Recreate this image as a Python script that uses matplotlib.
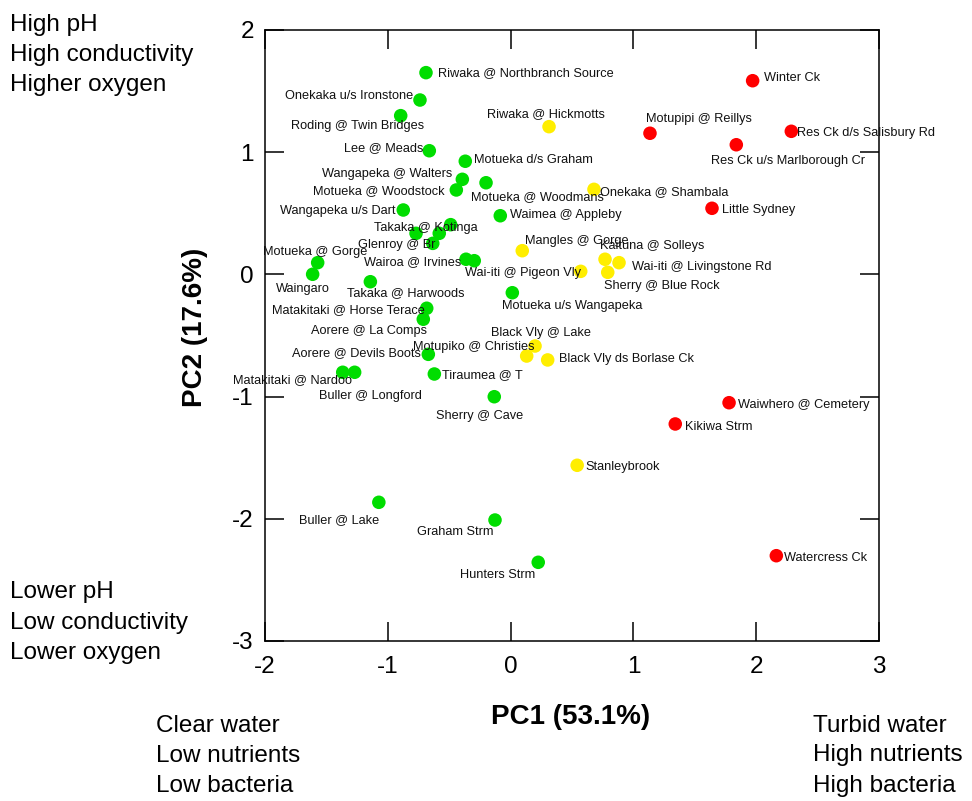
import matplotlib
matplotlib.use("Agg")
import matplotlib.pyplot as plt

plt.rcParams['font.family'] = ['Liberation Sans', 'DejaVu Sans']
plt.rcParams['axes.unicode_minus'] = False

# ---------------- data ----------------
site_names = [
    "Riwaka @ Northbranch Source", "Onekaka u/s Ironstone", "Roding @ Twin Bridges",
    "Lee @ Meads", "Motueka d/s Graham", "Wangapeka @ Walters", "Motueka @ Woodstock",
    "Motueka @ Woodmans", "Wangapeka u/s Dart", "Waimea @ Appleby", "",
    "Takaka @ Kotinga", "", "Glenroy @ Br", "Wairoa @ Irvines", "",
    "Motueka @ Gorge", "Waingaro", "Takaka @ Harwoods", "Matakitaki @ Horse Terace",
    "Aorere @ La Comps", "Motueka u/s Wangapeka", "Aorere @ Devils Boots",
    "Tiraumea @ T", "Matakitaki @ Nardoo", "Buller @ Longford", "Sherry @ Cave",
    "Buller @ Lake", "Graham Strm", "Hunters Strm",
    "Riwaka @ Hickmotts", "Onekaka @ Shambala", "Mangles @ Gorge", "Wai-iti @ Pigeon Vly",
    "Kaituna @ Solleys", "Wai-iti @ Livingstone Rd", "Sherry @ Blue Rock",
    "Black Vly @ Lake", "Motupiko @ Christies", "Black Vly ds Borlase Ck", "Stanleybrook",
    "Winter Ck", "Motupipi @ Reillys", "Res Ck u/s Marlborough Cr", "Res Ck d/s Salisbury Rd",
    "Little Sydney", "Waiwhero @ Cemetery", "Kikiwa Strm", "Watercress Ck",
]
pc1 = [
    -0.689, -0.738, -0.895, -0.662, -0.369, -0.393, -0.442, -0.200, -0.874, -0.084,
    -0.770, -0.581, -0.488, -0.634, -0.363, -0.296, -1.571, -1.612, -1.142, -0.683,
    -0.711, 0.014, -0.670, -0.621, -1.367, -1.270, -0.133, -1.073, -0.127, 0.225,
    0.313, 0.679, 0.095, 0.571, 0.769, 0.883, 0.791, 0.199, 0.131, 0.302, 0.542,
    1.971, 1.135, 1.838, 2.286, 1.640, 1.779, 1.341, 2.164,
]
pc2 = [
    1.651, 1.427, 1.299, 1.012, 0.926, 0.778, 0.691, 0.750, 0.527, 0.480,
    0.336, 0.336, 0.407, 0.254, 0.124, 0.112, 0.096, 0.001, -0.060, -0.277,
    -0.367, -0.150, -0.654, -0.815, -0.801, -0.801, -1.001, -1.865, -2.010, -2.356,
    1.209, 0.696, 0.194, 0.025, 0.124, 0.096, 0.017, -0.586, -0.668, -0.700, -1.562,
    1.585, 1.155, 1.061, 1.171, 0.541, -1.050, -1.224, -2.302,
]
group = ["good"] * 30 + ["fair"] * 11 + ["poor"] * 8

x_ticks = [-2, -1, 0, 1, 2, 3]
y_ticks = [-3, -2, -1, 0, 1, 2]
x_label = "PC1 (53.1%)"
y_label = "PC2 (17.6%)"
top_left_text = ["High pH", "High conductivity", "Higher oxygen"]
bottom_left_text = ["Lower pH", "Low conductivity", "Lower oxygen"]
bottom_center_text = ["Clear water", "Low nutrients", "Low bacteria"]
bottom_right_text = ["Turbid water", "High nutrients", "High bacteria"]

# ---------------- layout / style ----------------
group_colors = {"good": "#00dd00", "fair": "#ffee00", "poor": "#ff0000"}
# label offsets in pixels (dx, dy up) and horizontal alignment, same order as points
label_place = [
    (12, 0, 'left'), (-7, 4, 'right'), (23, -10, 'right'), (-6, 3, 'right'),
    (9, 1, 'left'), (-10, 5, 'right'), (-12, -1, 'right'), (-15, -14, 'left'),
    (-8, -1, 'right'), (10, 1, 'left'), (0, 0, 'left'), (-13, 5, 'center'),
    (0, 0, 'left'), (3, -2, 'right'), (-5, -3, 'right'), (0, 0, 'left'),
    (-2, 11, 'center'), (-10, -15, 'center'), (-23, -11, 'left'), (-2, -2, 'right'),
    (4, -12, 'right'), (-10, -13, 'left'), (-7, 1, 'right'), (8, -1, 'left'),
    (9, -8, 'right'), (16, -24, 'center'), (-15, -19, 'center'), (0, -18, 'right'),
    (-2, -12, 'right'), (-3, -13, 'right'),
    (-3, 13, 'center'), (6, -3, 'left'), (3, 10, 'left'), (0, -2, 'right'),
    (-5, 13, 'left'), (13, -4, 'left'), (-4, -14, 'left'), (6, 13, 'center'),
    (8, 9, 'right'), (11, 1, 'left'), (8, -2, 'left'),
    (11, 3, 'left'), (-4, 14, 'left'), (-25, -16, 'left'), (6, -2, 'left'),
    (10, -2, 'left'), (9, -2, 'left'), (10, -3, 'left'), (8, -2, 'left'),
]

W, H = 972, 801
fig = plt.figure(figsize=(W / 100, H / 100), dpi=100)
ax = fig.add_axes([265 / W, 1 - 641 / H, 614 / W, 611 / H])

colors = [group_colors[g] for g in group]
ax.scatter(pc1, pc2, s=95, c=colors, edgecolors='none', zorder=3)

for name, x, y, (dx, dy, ha) in zip(site_names, pc1, pc2, label_place):
    if name:
        ax.annotate(name, (x, y), xytext=(dx, dy), textcoords='offset pixels',
                    ha=ha, va='center', fontsize=9.2, color='#111111', zorder=4)

ax.set_xlim(-2, 3)
ax.set_ylim(-3, 2)
ax.set_xticks(x_ticks)
ax.set_yticks(y_ticks)
ax.set_xticklabels([str(t) for t in x_ticks])
ax.set_yticklabels([str(t) for t in y_ticks])
ax.tick_params(direction='in', length=13.5, width=1.1, top=True, right=True,
               labelsize=17.5, color='black')
ax.tick_params(axis='x', pad=11)
ax.tick_params(axis='y', pad=8)
for sp in ax.spines.values():
    sp.set_linewidth(1.1)

ax.set_xlabel(x_label, fontsize=20, fontweight='bold')
ax.set_ylabel(y_label, fontsize=20, fontweight='bold')
ax.xaxis.set_label_coords((571 - 265) / 614, (641 - 717) / 611)
ax.xaxis.label.set_va('center')
ax.yaxis.set_label_coords((195 - 265) / 614, (641 - 327) / 611)
ax.yaxis.label.set_va('center')


def block(lines, x_px, baselines_px):
    for txt, b in zip(lines, baselines_px):
        fig.text(x_px / W, 1 - b / H, txt, fontsize=17.5, ha='left', va='baseline')


block(top_left_text, 10, [31.5, 61.5, 91.5])
block(bottom_left_text, 10, [598, 628.5, 659])
block(bottom_center_text, 156, [731.5, 761.5, 792])
block(bottom_right_text, 813, [731.5, 761.5, 792])

fig.savefig("out.png", dpi=100)
